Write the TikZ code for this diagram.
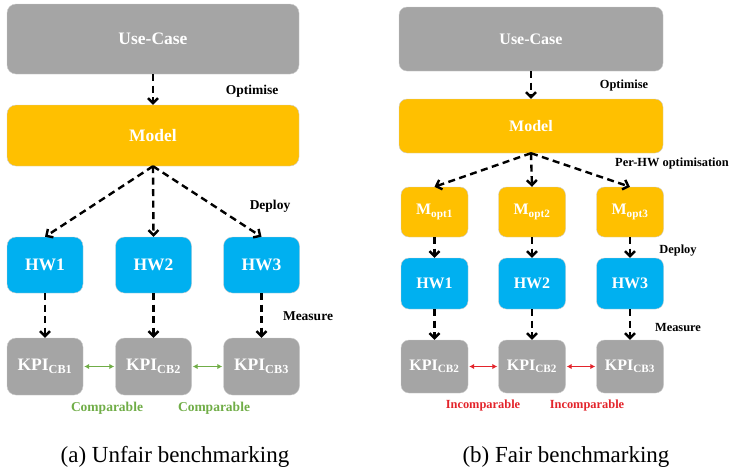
\documentclass[tikz,border=0pt]{standalone}
\usepackage{fontspec}
\setmainfont{Liberation Serif}
\usetikzlibrary{arrows.meta}
\definecolor{cgray}{HTML}{A5A5A5}
\definecolor{corange}{HTML}{FFC000}
\definecolor{cblue}{HTML}{00B0F0}
\definecolor{cgreen}{HTML}{70AD47}
\definecolor{cred}{HTML}{E3242B}

\begin{document}
\begin{tikzpicture}[
  x=1pt, y=-1pt,
  box/.style={rounded corners=9pt, draw=white!80!black, line width=0.4pt, text=white, inner sep=0pt},
  bigbox/.style={box, font=\fontsize{17.5}{20}\selectfont\bfseries},
  smallbox/.style={box, rounded corners=8pt, font=\fontsize{16}{19}\selectfont\bfseries},
  flow/.style={-{Straight Barb[length=5pt,width=10pt]}, line width=2.4pt, dash pattern=on 7pt off 4.5pt},
  cmp/.style={{Latex[length=5pt,width=5.5pt]}-{Latex[length=5pt,width=5.5pt]}, line width=1.6pt, shorten <=1pt, shorten >=1pt},
  tag/.style={font=\fontsize{13.5}{16}\selectfont\bfseries},
  smalltag/.style={font=\fontsize{12.4}{15}\selectfont\bfseries},
  caption/.style={font=\fontsize{23}{27}\selectfont}
]
  \useasboundingbox (0,0) rectangle (729,475);

  % (a) unfair benchmarking
  \begin{scope}
    \node[bigbox, fill=cgray, minimum width=292, minimum height=70] (uc1) at (153,39) {Use-Case};
    \node[bigbox, fill=corange, minimum width=292, minimum height=61] (mod1) at (153,135.5) {Model};
    \draw[flow] (uc1) -- (mod1);
    \foreach \x/\n in {45/1,153.5/2,261.5/3} {
      \node[bigbox, fill=cblue, minimum width=76, minimum height=56] (hwa\n) at (\x,265) {HW\n};
      \node[bigbox, fill=cgray, minimum width=76, minimum height=57] (kpia\n) at (\x,366.5) {KPI\textsubscript{CB\n}};
      \draw[flow] (mod1.south) -- (hwa\n.north);
      \draw[flow] (hwa\n) -- (kpia\n);
    }
    \draw[cmp, cgreen] (kpia1) -- (kpia2);
    \draw[cmp, cgreen] (kpia2) -- (kpia3);
    \node[tag] (opta) at (252,91) {Optimise};
    \node[tag] (depa) at (270,206) {Deploy};
    \node[tag] (mesa) at (308,316) {Measure};
    \node[tag, text=cgreen] (cmpa1) at (107,408) {Comparable};
    \node[tag, text=cgreen] (cmpa2) at (214,408) {Comparable};
    \node[caption] (capa) at (175,457) {(a) Unfair benchmarking};
  \end{scope}

  % (b) fair benchmarking
  \begin{scope}
    \node[smallbox, fill=cgray, minimum width=264, minimum height=64] (uc2) at (531,39) {Use-Case};
    \node[smallbox, fill=corange, minimum width=264, minimum height=54] (mod2) at (531,126) {Model};
    \draw[flow] (uc2) -- (mod2);
    \foreach \x/\n/\c in {434.5/1/2,532/2/2,630/3/3} {
      \node[smallbox, fill=corange, minimum width=67, minimum height=50] (mopt\n) at (\x,212) {M\textsubscript{opt\n}};
      \node[smallbox, fill=cblue, minimum width=67, minimum height=51] (hwb\n) at (\x,283.5) {HW\n};
      \node[smallbox, fill=cgray, minimum width=67, minimum height=53] (kpib\n) at (\x,366.5) {KPI\textsubscript{CB\c}};
      \draw[flow] (mod2.south) -- (mopt\n.north);
      \draw[flow] (mopt\n) -- (hwb\n);
      \draw[flow] (hwb\n) -- (kpib\n);
    }
    \draw[cmp, cred] (kpib1) -- (kpib2);
    \draw[cmp, cred] (kpib2) -- (kpib3);
    \node[smalltag] (optb) at (624,86) {Optimise};
    \node[smalltag] (perb) at (672,164) {Per-HW optimisation};
    \node[smalltag] (depb) at (678,251) {Deploy};
    \node[smalltag] (mesb) at (678,328) {Measure};
    \node[smalltag, text=cred] (cmpb1) at (483,406) {Incomparable};
    \node[smalltag, text=cred] (cmpb2) at (587,406) {Incomparable};
    \node[caption] (capb) at (566,457) {(b) Fair benchmarking};
  \end{scope}
\end{tikzpicture}
\end{document}
